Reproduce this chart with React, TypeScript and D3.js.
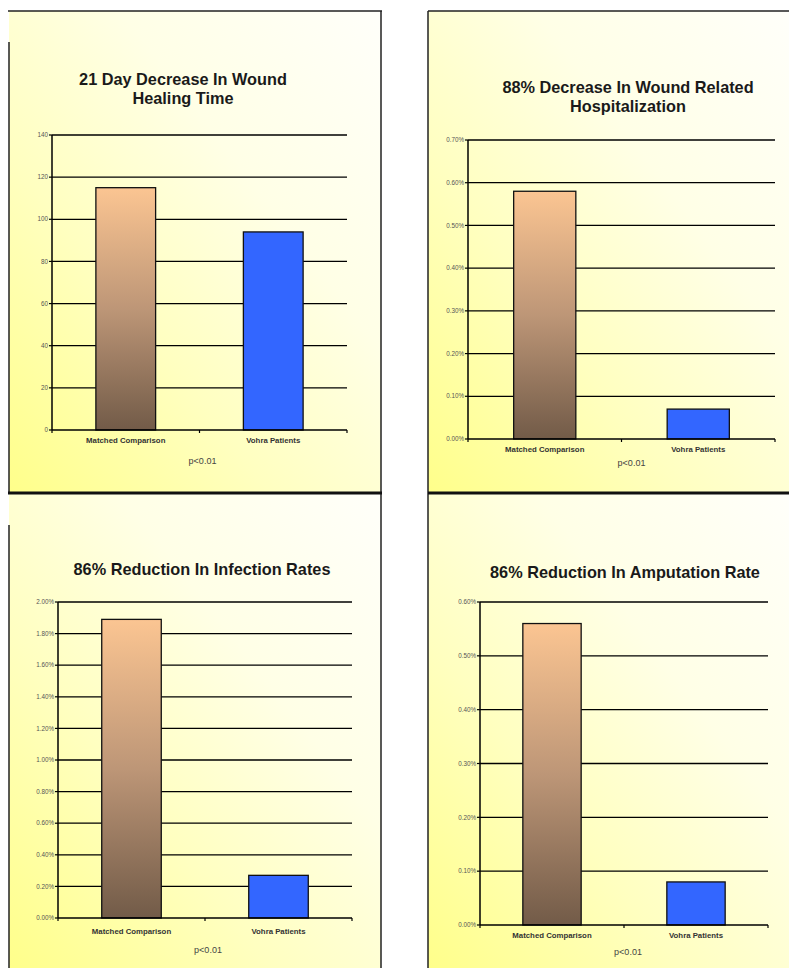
import React from "react";
import * as d3 from "d3";

const categories = ["Matched Comparison", "Vohra Patients"];
const healingDays = [115, 94];
const hospitalizationPct = [0.58, 0.07];
const infectionPct = [1.89, 0.27];
const amputationPct = [0.56, 0.08];

const healingTicks = [0, 20, 40, 60, 80, 100, 120, 140];
const hospitalizationTicks = [0, 0.1, 0.2, 0.3, 0.4, 0.5, 0.6, 0.7];
const infectionTicks = [0, 0.2, 0.4, 0.6, 0.8, 1.0, 1.2, 1.4, 1.6, 1.8, 2.0];
const amputationTicks = [0, 0.1, 0.2, 0.3, 0.4, 0.5, 0.6];

const titles = [
  ["21 Day Decrease In Wound", "Healing Time"],
  ["88% Decrease In Wound Related", "Hospitalization"],
  ["86% Reduction In Infection Rates"],
  ["86% Reduction In Amputation Rate"],
];
const pValueLabel = "p<0.01";

const fmtInt = d3.format("d");
const fmtPct = (v: number) => d3.format(".2f")(v) + "%";

type Spec = {
  values: number[];
  ticks: number[];
  fmt: (v: number) => string;
  title: string[];
  x0: number;
  x1: number;
  yZero: number;
  yTop: number;
  titleX: number;
  titleY: number;
  catDy: number;
  pDx: number;
  pDy: number;
};

const specs: Spec[] = [
  { values: healingDays, ticks: healingTicks, fmt: fmtInt, title: titles[0], x0: 52, x1: 347, yZero: 430, yTop: 135, titleX: 183, titleY: 85, catDy: 13, pDx: 3, pDy: 34 },
  { values: hospitalizationPct, ticks: hospitalizationTicks, fmt: fmtPct, title: titles[1], x0: 468, x1: 775, yZero: 439, yTop: 140, titleX: 628, titleY: 93, catDy: 13, pDx: 10, pDy: 27 },
  { values: infectionPct, ticks: infectionTicks, fmt: fmtPct, title: titles[2], x0: 58, x1: 352, yZero: 918, yTop: 602, titleX: 202, titleY: 575, catDy: 16, pDx: 3, pDy: 35 },
  { values: amputationPct, ticks: amputationTicks, fmt: fmtPct, title: titles[3], x0: 480, x1: 768, yZero: 925, yTop: 602, titleX: 625, titleY: 578, catDy: 13, pDx: 4, pDy: 30 },
];

const FONT = "'Liberation Sans', Arial, sans-serif";

function Chart({ s }: { s: Spec }) {
  const maxTick = s.ticks[s.ticks.length - 1];
  const y = d3.scaleLinear().domain([0, maxTick]).range([s.yZero, s.yTop]);
  const x = d3
    .scaleBand<string>()
    .domain(categories)
    .range([s.x0, s.x1])
    .paddingInner(0.595)
    .paddingOuter(0.2975);
  const mid = (s.x0 + s.x1) / 2;
  return (
    <g>
      {s.title.map((t, i) => (
        <text
          key={i}
          x={s.titleX}
          y={s.titleY + i * 19}
          textAnchor="middle"
          fontFamily={FONT}
          fontWeight="bold"
          fontSize={16.3}
          fill="#1a1a1a"
        >
          {t}
        </text>
      ))}
      {s.ticks.map((t) => (
        <g key={t}>
          {t > 0 && (
            <line x1={s.x0} x2={s.x1} y1={y(t)} y2={y(t)} stroke="#000" strokeWidth={1.3} />
          )}
          <line x1={s.x0 - 3} x2={s.x0} y1={y(t)} y2={y(t)} stroke="#000" strokeWidth={1.2} />
          <text
            x={s.x0 - 4}
            y={y(t)}
            dy="0.35em"
            textAnchor="end"
            fontFamily={FONT}
            fontSize={6.3}
            fill="#555"
          >
            {s.fmt(t)}
          </text>
        </g>
      ))}
      {categories.map((c, i) => {
        const bx = x(c)!;
        const v = s.values[i];
        return (
          <rect
            key={c}
            x={bx}
            y={y(v)}
            width={x.bandwidth()}
            height={s.yZero - y(v)}
            fill={i === 0 ? "url(#barGrad)" : "#3366ff"}
            stroke="#111"
            strokeWidth={1.3}
          />
        );
      })}
      <line x1={s.x0} x2={s.x0} y1={s.yTop} y2={s.yZero} stroke="#000" strokeWidth={1.5} />
      <line x1={s.x0} x2={s.x1} y1={s.yZero} y2={s.yZero} stroke="#000" strokeWidth={1.5} />
      {[s.x0, mid, s.x1].map((tx, i) => (
        <line key={i} x1={tx} x2={tx} y1={s.yZero} y2={s.yZero + 3} stroke="#000" strokeWidth={1.2} />
      ))}
      {categories.map((c) => (
        <text
          key={c}
          x={x(c)! + x.bandwidth() / 2}
          y={s.yZero + s.catDy}
          textAnchor="middle"
          fontFamily={FONT}
          fontWeight="bold"
          fontSize={7.8}
          fill="#333"
        >
          {c}
        </text>
      ))}
      <text
        x={mid + s.pDx}
        y={s.yZero + s.pDy}
        textAnchor="middle"
        fontFamily={FONT}
        fontSize={9}
        fill="#444"
      >
        {pValueLabel}
      </text>
    </g>
  );
}

export default function App() {
  const W = 789;
  const H = 968;
  return (
    <svg
      width={W}
      height={H}
      style={{ position: "absolute", left: 0, top: 0, background: "#fff" }}
    >
      <defs>
        <linearGradient id="panelGrad" x1="0" y1="1" x2="1" y2="0">
          <stop offset="0" stopColor="#ffff8a" />
          <stop offset="0.35" stopColor="#ffffc0" />
          <stop offset="0.65" stopColor="#ffffe6" />
          <stop offset="1" stopColor="#fffffa" />
        </linearGradient>
        <linearGradient id="barGrad" x1="0" y1="0" x2="0" y2="1">
          <stop offset="0" stopColor="#fbc592" />
          <stop offset="0.5" stopColor="#bd9677" />
          <stop offset="1" stopColor="#725b48" />
        </linearGradient>
      </defs>
      <rect x={0} y={0} width={W} height={H} fill="#fff" />
      <rect x={9} y={11} width={372} height={482} fill="url(#panelGrad)" />
      <rect x={428} y={11} width={361} height={482} fill="url(#panelGrad)" />
      <rect x={9} y={493} width={372} height={475} fill="url(#panelGrad)" />
      <rect x={428} y={493} width={361} height={475} fill="url(#panelGrad)" />
      <g stroke="#222">
        <line x1={8} x2={382} y1={11} y2={11} strokeWidth={1.5} />
        <line x1={381} x2={381} y1={11} y2={968} strokeWidth={1.5} />
        <line x1={9} x2={9} y1={42} y2={493} strokeWidth={1.5} />
        <line x1={9} x2={9} y1={525} y2={968} strokeWidth={1.5} />
        <line x1={428} x2={789} y1={11} y2={11} strokeWidth={1.5} />
        <line x1={428} x2={428} y1={11} y2={968} strokeWidth={1.5} />
        <line x1={8} x2={382} y1={493} y2={493} strokeWidth={3} stroke="#111" />
        <line x1={428} x2={789} y1={493} y2={493} strokeWidth={3} stroke="#111" />
      </g>
      {specs.map((s, i) => (
        <Chart key={i} s={s} />
      ))}
    </svg>
  );
}
